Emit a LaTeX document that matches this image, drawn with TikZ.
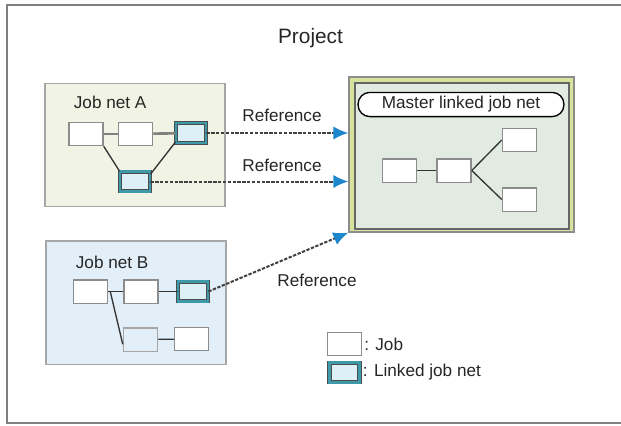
\documentclass[tikz,border=0pt]{standalone}
\usepackage{fontspec}
\setmainfont{Liberation Sans}
\usepackage{tikz}
\usetikzlibrary{arrows.meta,calc}
\definecolor{netAfill}{HTML}{F1F3E4}
\definecolor{netBfill}{HTML}{E3EFF8}
\definecolor{masterrim}{HTML}{D6E39C}
\definecolor{masterfill}{HTML}{E2EBE1}
\definecolor{linkteal}{HTML}{3E9AA8}
\definecolor{linkfill}{HTML}{DDF0F6}
\definecolor{refblue}{HTML}{1E86CC}
\tikzset{>=latex}
\tikzset{font=\fontsize{10.3}{12}\selectfont, text=black!85}
\tikzset{
  job/.style={draw=black!45, fill=white, line width=0.8pt,
    minimum width=20.5pt, minimum height=14pt, inner sep=0pt},
  linked/.style={draw=black!70, double=linkteal, double distance=1.5pt,
    fill=linkfill, line width=0.5pt, minimum width=18pt,
    minimum height=11.8pt, inner sep=0pt},
  % plain job net frames
  jobnet/.style={draw=black!35, line width=0.8pt, minimum width=108pt,
    minimum height=74pt, inner sep=0pt},
  jobline/.style={black!80, line width=0.8pt},
  thickline/.style={black!50, line width=1.6pt},
  refline/.style={black!75, line width=1.2pt, dash pattern=on 2pt off 0.9pt,
    -{Latex[length=9pt,width=8pt,color=refblue]}}
}

\begin{document}
\begin{tikzpicture}[x=0.6pt,y=-0.6pt]
  \useasboundingbox (0,0) rectangle (621,425);
  \draw[black!50, line width=1.3pt] (622,5) -- (7,5) -- (7,423) -- (622,423);
  \node[font=\fontsize{12.5}{14}\selectfont] (project) at (310.5,38) {Project};

  % job net A
  \node[jobnet, fill=netAfill] (netA) at (135,145) {};
  \node[anchor=west] (labelA) at (68,102) {Job net A};
  \node[job] (a1) at (86,134) {};
  \node[job] (a2) at (135.5,134) {};
  \node[linked] (a3) at (191,133) {};
  \node[linked] (a4) at (135,181.5) {};
  \draw[thickline] (a1) -- (a2);
  \draw[thickline] (a2) -- (a3);
  \draw[jobline] (a1.south east) -- (a4.north west);
  \draw[jobline] (a4.25) -- (a3.210);

  % job net B
  \node[jobnet, fill=netBfill] (netB) at (136,302.5) {};
  \node[anchor=west] (labelB) at (70,262) {Job net B};
  \node[job] (b1) at (90.5,291.5) {};
  \node[job] (b2) at (141,291.5) {};
  \node[linked] (b3) at (193,291.5) {};
  \node[job, fill=netBfill, draw=black!35] (b4) at (140.5,339.5) {};
  \node[job] (b5) at (191.5,339) {};
  \draw[jobline] (b1) -- (b2);
  \draw[jobline] (b2) -- (b3);
  \draw[jobline] (b4) -- (b5);
  \draw[jobline] ([xshift=1.2pt]b1.east) -- (b4.195);

  % master linked job net
  \node[draw=black!45, fill=masterrim, line width=0.8pt, minimum width=135pt,
    minimum height=93pt, inner sep=0pt] (master) at (461.5,154.5) {};
  \node[draw=black!60, fill=masterfill, line width=0.8pt, minimum width=128.5pt,
    minimum height=87.5pt, inner sep=0pt] (masterin) at (462,156) {};
  \node[draw=black, fill=white, line width=0.8pt, rounded corners=7pt,
    minimum width=123.5pt, minimum height=14.5pt, inner sep=0pt]
    (mastertitle) at (461,104.5) {Master linked job net};
  \node[job] (m1) at (399.5,170.5) {};
  \node[job] (m2) at (454,170.5) {};
  \node[job] (m3) at (519.5,140) {};
  \node[job] (m4) at (519.5,199.5) {};
  \draw[jobline] (m1) -- (m2);
  \draw[jobline] (m2.east) -- (m3.west);
  \draw[jobline] (m2.east) -- (m4.west);

  % references
  \draw[refline] (a3.east) -- (a3.east -| master.west);
  \draw[refline] (a4.east) -- (a4.east -| master.west);
  \draw[refline] (b3.east) -- (master.south west);
  \node (ref1) at (282,115) {Reference};
  \node (ref2) at (282,165) {Reference};
  \node (ref3) at (317,280) {Reference};

  % legend
  \node[job] (legjob) at (344.5,344) {};
  \node[linked] (leglinked) at (344.5,372.5) {};
  \node[anchor=west, inner sep=1pt] (legjobtext) at (legjob.east) {: Job};
  \node[anchor=west, inner sep=1pt] (leglinkedtext) at ([xshift=0.6pt]leglinked.east) {: Linked job net};
\end{tikzpicture}
\end{document}
